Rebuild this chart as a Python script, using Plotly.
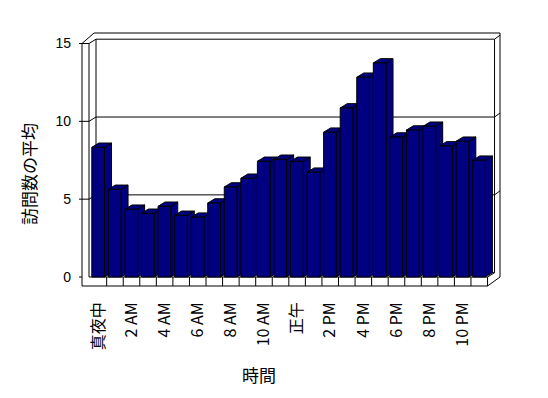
import plotly.graph_objects as go

# ---- data ----
hours = ["真夜中", "1 AM", "2 AM", "3 AM", "4 AM", "5 AM", "6 AM", "7 AM", "8 AM", "9 AM",
         "10 AM", "11 AM", "正午", "1 PM", "2 PM", "3 PM", "4 PM", "5 PM", "6 PM", "7 PM",
         "8 PM", "9 PM", "10 PM", "11 PM"]
visits = [8.33, 5.63, 4.35, 4.09, 4.54, 3.96, 3.84, 4.75, 5.78, 6.34, 7.43, 7.56,
          7.43, 6.73, 9.30, 10.86, 12.83, 13.75, 8.99, 9.44, 9.68, 8.42, 8.72, 7.50]
y_ticks = [0, 5, 10, 15]
y_title = "訪問数の平均"
x_title = "時間"

N = len(hours)
NAVY = "#000080"

# ---- geometry (pixel <-> data helpers for the pseudo-3D frame) ----
SX = 16.56      # px per category
SY = 15.567     # px per value unit
X0PX, Y0PX = 90.1, 277.0


def X(px):
    return (px - X0PX) / SX


def Y(py):
    return (Y0PX - py) / SY


DX = 7.0 / SX
DY = 4.3 / SY
BAR_OFF = 1.7 / SX
BAR_W = 12.7 / SX

L, R, T, B = 72, 510, 25, 298
W, H = 548, 398
xr = [X(L), X(R)]
yr = [Y(B), Y(T)]


def PX(px):
    return (px - L) / (R - L)


def PY(py):
    return (B - py) / (B - T)


fig = go.Figure()

# side and top faces (computed from values)
for i, v in enumerate(visits):
    xl = i + BAR_OFF
    xrr = xl + BAR_W
    side_x = [xrr, xrr + DX, xrr + DX, xrr, xrr]
    side_y = [0, DY, v + DY, v, 0]
    top_x = [xl, xl + DX, xrr + DX, xrr, xl]
    top_y = [v, v + DY, v + DY, v, v]
    for px_, py_ in ((side_x, side_y), (top_x, top_y)):
        fig.add_trace(go.Scatter(x=px_, y=py_, mode="lines", fill="toself",
                                 fillcolor=NAVY, line=dict(color="black", width=1),
                                 hoverinfo="skip", showlegend=False))

# front faces as bars on an overlaid subplot (drawn on top)
fig.add_trace(go.Bar(x=list(range(N)), y=visits, offset=BAR_OFF, width=BAR_W,
                     marker=dict(color=NAVY, line=dict(color="black", width=1)),
                     xaxis="x2", yaxis="y2", showlegend=False,
                     hovertext=hours))

# ---- frame shapes ----
shapes = []


def line(x0, y0, x1, y1):
    shapes.append(dict(type="line", xref="x", yref="y", x0=x0, y0=y0, x1=x1, y1=y1,
                       line=dict(color="black", width=1), layer="below"))


WALL_OUT, WALL_IN = X(82), X(89)
FLOOR_BOT = Y(286)
OUT_R, OUT_TOP = X(500), Y(33)
TICK_L = X(79)
TOP_DIAG_X = X(94)
VMAX = max(y_ticks)

line(WALL_OUT, FLOOR_BOT, WALL_OUT, VMAX)
line(WALL_IN, 0, WALL_IN, VMAX)
line(WALL_OUT, FLOOR_BOT, N, FLOOR_BOT)
line(N, FLOOR_BOT, N, 0)
line(WALL_IN, 0, N, 0)
for k in range(1, N):
    line(k, FLOOR_BOT, k, 0)
line(N, FLOOR_BOT, OUT_R, 0)
line(N, 0, N + DX, DY)
line(WALL_IN + DX, DY, WALL_IN + DX, VMAX + DY)
line(N + DX, DY, N + DX, VMAX + DY)
line(WALL_IN + DX, DY, N + DX, DY)
line(OUT_R, 0, OUT_R, OUT_TOP)
line(TOP_DIAG_X, OUT_TOP, OUT_R, OUT_TOP)
line(WALL_OUT, VMAX, TOP_DIAG_X, OUT_TOP)
line(TICK_L, 0, WALL_OUT, 0)
for v in y_ticks[1:]:
    line(TICK_L, v, WALL_IN, v)
    line(WALL_IN, v, WALL_IN + DX, v + DY)
    line(WALL_IN + DX, v + DY, N + DX, v + DY)
    line(N + DX, v + DY, OUT_R, v + DY + 4.0 / SY)


tick_idx = list(range(0, N, 2))
fig.update_layout(
    width=W, height=H,
    margin=dict(l=L, r=W - R, t=T, b=H - B, pad=0),
    paper_bgcolor="white", plot_bgcolor="white",
    font=dict(family="Liberation Sans, Noto Sans CJK JP", color="black", size=14),
    showlegend=False,
    shapes=shapes,
    xaxis=dict(range=xr, showgrid=False, zeroline=False, showline=False, ticks="",
               tickmode="array", tickvals=[i + 0.5 for i in tick_idx],
               ticktext=[hours[i] for i in tick_idx], tickangle=-90,
               tickfont=dict(size=16, color="black",
                             family="Liberation Sans Narrow, Noto Sans CJK JP")),
    yaxis=dict(range=yr, showgrid=False, zeroline=False, showline=False, ticks="",
               tickmode="array", tickvals=y_ticks, tickfont=dict(size=14, color="black")),
    xaxis2=dict(range=xr, overlaying="x", visible=False),
    yaxis2=dict(range=yr, overlaying="y", visible=False),
    annotations=[
        dict(text=y_title, x=PX(28), y=PY(174), xref="paper", yref="paper", showarrow=False,
             textangle=-90, xanchor="center", yanchor="middle",
             font=dict(size=17, color="black", family="Noto Sans CJK JP")),
        dict(text=x_title, x=PX(259), y=PY(375), xref="paper", yref="paper", showarrow=False,
             xanchor="center", yanchor="middle",
             font=dict(size=17, color="black", family="Noto Sans CJK JP")),
    ],
)

fig.write_html("out.html")
